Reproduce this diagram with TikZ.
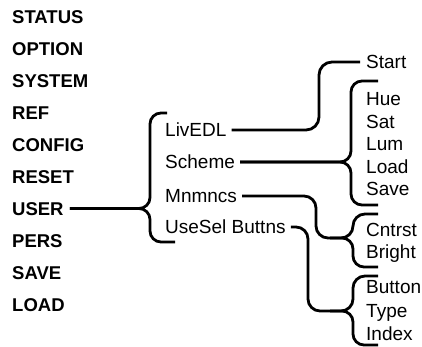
\documentclass[tikz,border=0pt]{standalone}
\usepackage{fontspec}
\setmainfont{Liberation Sans}
\begin{document}
\begin{tikzpicture}[x=1pt,y=-1pt,
  top/.style={font=\fontsize{18.5}{20}\selectfont\bfseries, anchor=west, inner sep=0pt, text height=13.2pt, text depth=0pt},
  sub/.style={font=\fontsize{19}{21}\selectfont, anchor=west, inner sep=0pt, text height=13.6pt, text depth=0pt},
  link/.style={line width=2.8pt, rounded corners=11pt},
]
\useasboundingbox (0,0) rectangle (422,347);
% first level
\node[top] (status) at (12,16.5) {STATUS};
\node[top] (option) at (12,48.5) {OPTION};
\node[top] (system) at (12,80.5) {SYSTEM};
\node[top] (ref) at (12,112.5) {REF};
\node[top] (config) at (12,144.5) {CONFIG};
\node[top] (reset) at (12,176.5) {RESET};
\node[top] (user) at (12,208.5) {USER};
\node[top] (pers) at (12,240.5) {PERS};
\node[top] (save1) at (12,272.5) {SAVE};
\node[top] (load1) at (12,304.5) {LOAD};
% second level
\node[sub] (livedl) at (165,130) {LivEDL};
\node[sub] (scheme) at (165,162) {Scheme};
\node[sub] (mnmncs) at (165,196) {Mnmncs};
\node[sub] (usesel) at (165,227) {UseSel Buttns};
% third level
\node[sub] (start) at (366,62) {Start};
\node[sub] (hue) at (366,99) {Hue};
\node[sub] (sat) at (366,121.5) {Sat};
\node[sub] (lum) at (366,144) {Lum};
\node[sub] (load2) at (366,166.5) {Load};
\node[sub] (save2) at (366,189) {Save};
\node[sub] (cntrst) at (366,230) {Cntrst};
\node[sub] (bright) at (366,252) {Bright};
\node[sub] (button) at (366,287) {Button};
\node[sub] (type) at (366,311) {Type};
\node[sub] (index) at (366,334) {Index};
% brace helper points
\coordinate (mb) at (330,238);
\coordinate (ub) at (330,311);
% USER brace
\draw[link] ([xshift=6pt]user.east) -- (150,208.5) -- (150,113) -- (167,113);
\draw[link] ([xshift=6pt]user.east) -- (150,208.5) -- (150,242) -- (175,242);
% LivEDL -> Start
\draw[link, rounded corners=13pt] ([xshift=5pt]livedl.east) -- (319,130) -- (319,62) -- ([xshift=-6pt]start.west);
% Scheme brace
\draw[link] ([xshift=5pt]scheme.east) -- (351,162) -- (351,81) -- (378,81);
\draw[link] ([xshift=5pt]scheme.east) -- (351,162) -- (351,205) -- (378,205);
% Mnmncs brace
\draw[link, rounded corners=12pt] ([xshift=5pt]mnmncs.east) -- (316,196) -- (316,238) -- (353,238) -- (353,214) -- (378,214);
\draw[link] (mb) -- (353,238) -- (353,267) -- (378,267);
% UseSel brace
\draw[link, rounded corners=12pt] ([xshift=5pt]usesel.east) -- (308,227) -- (308,311) -- (353,311) -- (353,276) -- (378,276);
\draw[link] (ub) -- (353,311) -- (353,345) -- (378,345);
\end{tikzpicture}
\end{document}
